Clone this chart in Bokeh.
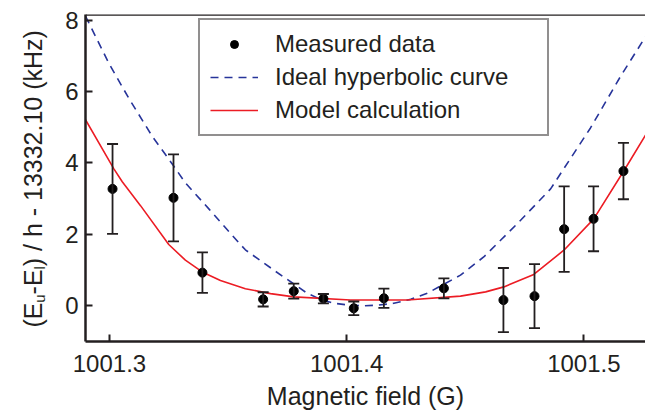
from bokeh.plotting import figure
from bokeh.models import (ColumnDataSource, Whisker, TeeHead, Legend, LegendItem,
                          Label, Span, FixedTicker, Range1d)
from bokeh.embed import file_html
from bokeh.resources import INLINE
import math

# ---------------- data ----------------
field_x = [1001.3013, 1001.3270, 1001.3392, 1001.3648, 1001.3777, 1001.3902, 1001.4030,
           1001.4157, 1001.4410, 1001.4661, 1001.4792, 1001.4917, 1001.5041, 1001.5167]
energy_y = [3.27, 3.02, 0.92, 0.17, 0.40, 0.19, -0.08, 0.20, 0.48, 0.15, 0.26, 2.14, 2.43, 3.77]
energy_err = [1.26, 1.22, 0.57, 0.20, 0.21, 0.13, 0.19, 0.27, 0.28, 0.90, 0.90, 1.20, 0.91, 0.79]

model_x = [1001.2899, 1001.3018, 1001.3054, 1001.3131, 1001.3250, 1001.3320, 1001.3391,
           1001.3468, 1001.3573, 1001.3679, 1001.3777, 1001.4016, 1001.4255, 1001.4480,
           1001.4586, 1001.4663, 1001.4789, 1001.4916, 1001.5042, 1001.5169, 1001.5260]
model_y = [5.21, 3.84, 3.47, 2.80, 1.71, 1.27, 0.94, 0.70, 0.47, 0.33, 0.24, 0.15, 0.15,
           0.26, 0.38, 0.52, 0.87, 1.55, 2.43, 3.78, 4.78]

ideal_x = [1001.2899, 1001.2997, 1001.3081, 1001.3180, 1001.3271, 1001.3320, 1001.3419,
           1001.3517, 1001.3573, 1001.3693, 1001.3834, 1001.3890, 1001.3946, 1001.4010,
           1001.4072, 1001.4135, 1001.4199, 1001.4270, 1001.4340, 1001.4480, 1001.4578,
           1001.4719, 1001.4860, 1001.5028, 1001.5155, 1001.5260]
ideal_y = [8.12, 6.80, 5.82, 4.75, 3.91, 3.44, 2.71, 1.97, 1.56, 0.99, 0.34, 0.17, 0.06,
           0.01, -0.01, 0.01, 0.06, 0.17, 0.34, 0.85, 1.36, 2.29, 3.27, 4.98, 6.43, 7.54]

x_ticks = [1001.3, 1001.4, 1001.5]
y_ticks = [0, 2, 4, 6, 8]

x_label = "Magnetic field (G)"
legend_labels = ["Measured data", "Ideal hyperbolic curve", "Model calculation"]
# y-axis label pieces: (text, is_subscript)
y_label_parts = [("(E", False), ("u", True), ("-E", False), ("l", True),
                 (") / h - 13332.10 (kHz)", False)]

FONT = "Liberation Sans"
INK = "#231f20"
BLUE = "#27349a"
RED = "#ec1c24"

# The rotated title pieces live in the left side panel (not clipped); that panel is
# wider than the visible margin, so the figure is shifted left by the surplus.
LEFT = 170           # total left border inside the figure
SHIFT = LEFT - 85    # frame must appear at x = 85 in the window

x_lo, x_hi = 1001.2899, 1001.5260
y_lo, y_hi = -1.0126, 8.164

p = figure(width=560 + LEFT, height=412, output_backend="svg", toolbar_location=None,
           x_range=Range1d(x_lo, x_hi), y_range=Range1d(y_lo, y_hi),
           min_border_left=LEFT, min_border_right=0, min_border_top=14,
           min_border_bottom=69, styles={"margin-left": f"-{SHIFT}px"})
p.outline_line_color = None
p.background_fill_color = "white"
p.border_fill_color = "white"
p.xgrid.visible = False
p.ygrid.visible = False

for ax in (p.xaxis[0], p.yaxis[0]):
    ax.axis_line_width = 2.5
    ax.axis_line_color = INK
    ax.major_tick_line_color = INK
    ax.major_tick_line_width = 2
    ax.major_tick_in = 7
    ax.major_tick_out = 0
    ax.minor_tick_line_color = None
    ax.major_label_text_font = FONT
    ax.major_label_text_font_size = "24px"
    ax.major_label_text_color = INK

p.xaxis.ticker = FixedTicker(ticks=x_ticks)
p.yaxis.ticker = FixedTicker(ticks=y_ticks)
p.xaxis.major_label_standoff = 13
p.yaxis.major_label_standoff = 7
p.xaxis.axis_label = x_label
p.xaxis.axis_label_text_font = FONT
p.xaxis.axis_label_text_font_size = "25px"
p.xaxis.axis_label_text_font_style = "normal"
p.xaxis.axis_label_text_color = INK
p.xaxis.axis_label_standoff = 7

# top frame line
p.add_layout(Span(location=y_hi, dimension="width", line_color=INK, line_width=2.5))

# curves
r_ideal = p.line(ideal_x, ideal_y, line_color=BLUE, line_width=1.6, line_dash="8 6")
r_model = p.line(model_x, model_y, line_color=RED, line_width=1.6)

# error bars
src = ColumnDataSource(dict(
    x=field_x, y=energy_y,
    upper=[v + e for v, e in zip(energy_y, energy_err)],
    lower=[v - e for v, e in zip(energy_y, energy_err)]))
p.add_layout(Whisker(source=src, base="x", upper="upper", lower="lower",
                     line_color=INK, line_width=1.8, level="glyph",
                     upper_head=TeeHead(size=11, line_color=INK, line_width=1.8),
                     lower_head=TeeHead(size=11, line_color=INK, line_width=1.8)))
r_pts = p.scatter("x", "y", source=src, size=9, marker="circle",
                  fill_color="black", line_color="black")

legend = Legend(items=[LegendItem(label=legend_labels[0], renderers=[r_pts]),
                       LegendItem(label=legend_labels[1], renderers=[r_ideal]),
                       LegendItem(label=legend_labels[2], renderers=[r_model])],
                location=(113, 205), margin=0, padding=10, spacing=5,
                glyph_width=48, glyph_height=20, label_height=20, label_width=262,
                label_standoff=17, label_text_font=FONT, label_text_font_size="24px",
                label_text_color=INK, label_text_baseline="middle",
                border_line_color=INK, border_line_width=2,
                background_fill_color="white", background_fill_alpha=1.0)
p.add_layout(legend, "center")

# ---- rotated y-axis title with subscripts ----
def px_to_x(px):
    return 1001.3 + (px - 109) / 2371.5

def py_to_y(py):
    return (306.7 - py) / 35.85

main_size, sub_size = 25, 15
widths = {"(E": 25.0, "u": 8.34, "-E": 25.0, "l": 3.33}
py = 329.0
for text, sub in y_label_parts:
    p.add_layout(Label(x=px_to_x(39 if sub else 33), y=py_to_y(py), text=text,
                       angle=math.pi / 2, text_font=FONT,
                       text_font_size=f"{sub_size if sub else main_size}px",
                       text_color=INK, text_align="left", text_baseline="alphabetic"),
                 "left")
    py -= widths.get(text, 0)

open("out.html", "w").write(file_html(p, INLINE))
